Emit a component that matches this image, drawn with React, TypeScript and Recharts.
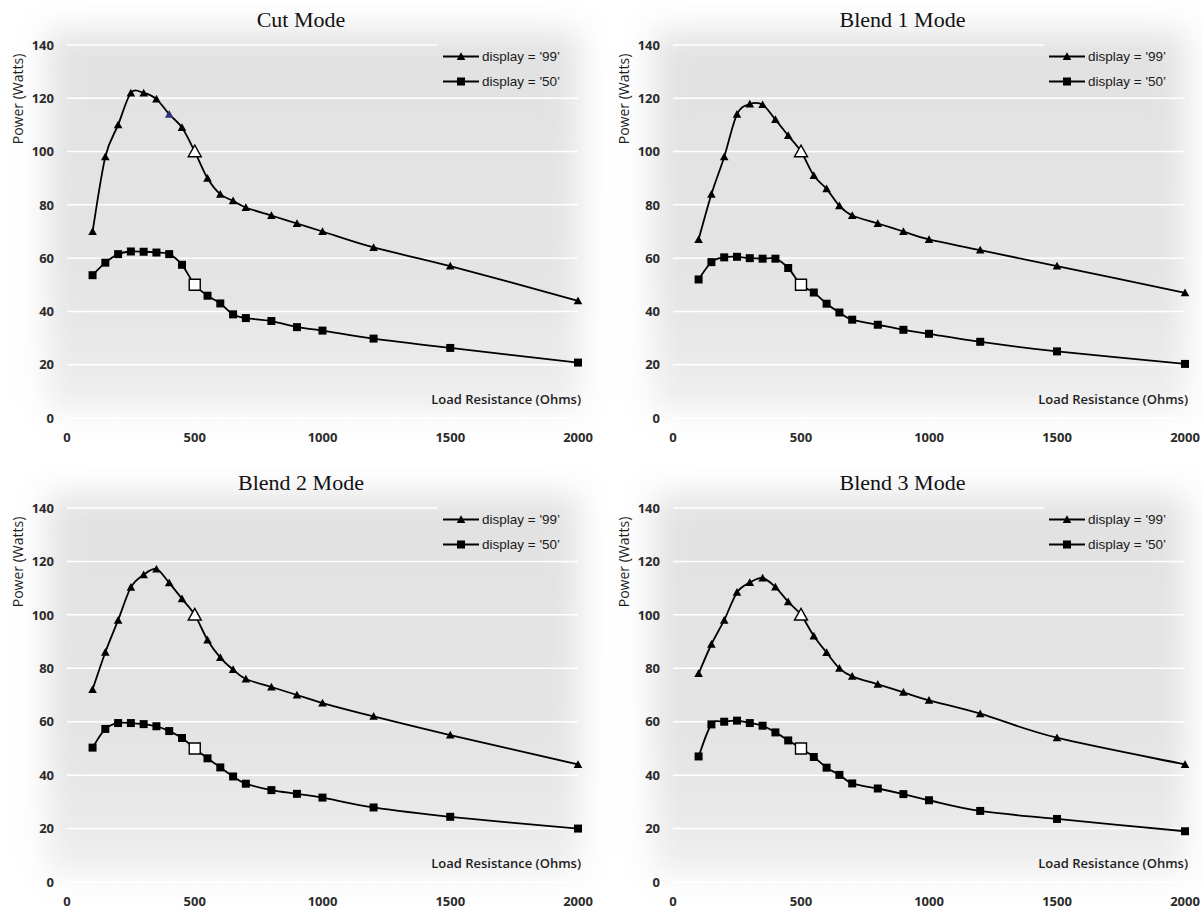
import React from 'react';
import { LineChart, Line, XAxis, YAxis, ReferenceLine } from 'recharts';

// load resistance (ohms) where the measurements were taken
const loads = [100, 150, 200, 250, 300, 350, 400, 450, 500, 550, 600, 650, 700, 800, 900, 1000, 1200, 1500, 2000];

// power (watts), display = '99'
const cut99 = [70, 98, 110, 122, 122, 119.7, 114, 109, 100, 90, 84, 81.5, 79, 76, 73, 70, 64, 57, 44];
const blend1_99 = [67, 84, 98, 114, 117.8, 117.6, 112, 106, 100, 91, 86, 79.6, 76, 73, 70, 67, 63, 57, 47];
const blend2_99 = [72, 86, 98, 110.3, 115, 117.1, 112, 106, 100, 90.6, 84, 79.5, 76, 73, 70, 67, 62, 55, 44];
const blend3_99 = [78, 89, 98, 108.4, 112.1, 113.8, 110.4, 104.9, 100, 92.1, 85.9, 80, 77, 74, 71, 68, 63, 54, 44];

// power (watts), display = '50'
const cut50 = [53.6, 58.3, 61.5, 62.5, 62.4, 62.1, 61.5, 57.5, 50, 45.9, 43, 38.9, 37.5, 36.4, 34.1, 32.8, 29.8, 26.3, 20.8];
const blend1_50 = [52, 58.5, 60.3, 60.5, 60, 59.8, 59.8, 56.3, 50, 47.1, 42.9, 39.6, 36.9, 35, 33.1, 31.6, 28.6, 25, 20.3];
const blend2_50 = [50.3, 57.3, 59.5, 59.5, 59.1, 58.3, 56.5, 53.9, 50, 46.3, 42.9, 39.5, 36.8, 34.4, 33, 31.6, 27.9, 24.4, 20];
const blend3_50 = [47, 59, 60, 60.4, 59.5, 58.5, 56, 53, 50, 46.8, 42.8, 40.1, 36.9, 35, 32.9, 30.6, 26.6, 23.6, 19];

const xTicks = [0, 100, 200, 300, 400, 500, 600, 700, 800, 900, 1000, 1100, 1200, 1300, 1400, 1500, 1600, 1700, 1800, 1900, 2000];
const xLabelTicks = [0, 500, 1000, 1500, 2000];
const yTicks = [0, 20, 40, 60, 80, 100, 120, 140];
const gridValues = [20, 40, 60, 80, 100, 120];
const openMarkerLoad = 500;

const legendNames = ["display = '99’", "display = '50’"];

const tickFont = { fontFamily: '"Open Sans", sans-serif', fontSize: 13, fontWeight: 700, fill: '#2b2b2b' };

// Excel-like smoothed line (Catmull-Rom through every point)
const smoothCurve: any = (context: any) => {
  let pts: number[][] = [];
  return {
    areaStart() {},
    areaEnd() {},
    lineStart() {
      pts = [];
    },
    point(x: number, y: number) {
      pts.push([+x, +y]);
    },
    lineEnd() {
      if (!pts.length) return;
      context.moveTo(pts[0][0], pts[0][1]);
      for (let i = 0; i < pts.length - 1; i++) {
        const p0 = pts[i - 1] || pts[i];
        const p1 = pts[i];
        const p2 = pts[i + 1];
        const p3 = pts[i + 2] || p2;
        context.bezierCurveTo(
          p1[0] + (p2[0] - p0[0]) / 6,
          p1[1] + (p2[1] - p0[1]) / 6,
          p2[0] - (p3[0] - p1[0]) / 6,
          p2[1] - (p3[1] - p1[1]) / 6,
          p2[0],
          p2[1]
        );
      }
    },
  };
};

function markerPath(shape: string, cx: number, cy: number, open: boolean) {
  if (shape === 'triangle') {
    const s = open ? 6.5 : 4.3;
    return `M${cx},${cy - s}L${cx + s},${cy + s * 0.8}L${cx - s},${cy + s * 0.8}Z`;
  }
  const s = open ? 5.5 : 4;
  return `M${cx - s},${cy - s}H${cx + s}V${cy + s}H${cx - s}Z`;
}

const makeDot = (shape: string, highlight?: number) => (props: any) => {
  const { cx, cy, payload, index } = props;
  if (cx == null || cy == null) return <g key={index} />;
  const open = payload.load === openMarkerLoad;
  const fill = open ? '#fff' : payload.load === highlight ? '#2e3380' : '#000';
  return (
    <path
      key={index}
      d={markerPath(shape, cx, cy, open)}
      fill={fill}
      stroke={open ? '#000' : 'none'}
      strokeWidth={1.4}
    />
  );
};

const XTick = (props: any) => {
  const { x, y, payload } = props;
  if (!xLabelTicks.includes(payload.value)) return <g />;
  return (
    <text x={x} y={y} dy="0.36em" textAnchor="middle" {...tickFont}>
      {payload.value}
    </text>
  );
};

const YTick = (props: any) => {
  const { x, y, payload } = props;
  return (
    <text x={x} y={y} dy="0.36em" textAnchor="end" {...tickFont}>
      {payload.value}
    </text>
  );
};

interface ModeChartProps {
  title: string;
  s99: number[];
  s50: number[];
  left: number;
  top: number;
  width: number;
  height: number;
  margin: { top: number; right: number; bottom: number; left: number };
  highlight?: number;
}

function ModeChart({ title, s99, s50, left, top, width, height, margin, highlight }: ModeChartProps) {
  const data = loads.map((load, i) => ({ load, p99: s99[i], p50: s50[i] }));
  const plotLeft = margin.left + 60;
  const plotTop = margin.top;
  const plotWidth = width - plotLeft - margin.right;
  const legendX = plotLeft + 376;

  return (
    <div style={{ position: 'absolute', left, top, width, height }}>
      <div
        style={{
          position: 'absolute',
          left: plotLeft - 20,
          top: plotTop - 14,
          width: plotWidth + 22,
          height: 380,
          background: 'linear-gradient(#e2e2e2 0%, #e4e4e4 65%, #eeeeee 100%)',
          filter: 'blur(16px)',
        }}
      />
      <div style={{ position: 'absolute', left: 0, top: 0 }}>
        <LineChart width={width} height={height} data={data} margin={margin}>
          <XAxis
            dataKey="load"
            type="number"
            domain={[0, 2000]}
            ticks={xTicks}
            interval={0}
            tick={<XTick />}
            tickSize={4}
            tickMargin={15}
            axisLine={{ stroke: '#ffffff', strokeWidth: 1.5 }}
            tickLine={{ stroke: '#ffffff', strokeWidth: 1.2 }}
            height={30}
            label={{
              content: (p: any) => {
                const vb = p.viewBox;
                return (
                  <text
                    x={vb.x + vb.width + 3}
                    y={vb.y - 14}
                    textAnchor="end"
                    fontFamily='"Open Sans", sans-serif'
                    fontSize={13}
                    fontWeight={600}
                    fill="#1e1e1e"
                  >
                    Load Resistance (Ohms)
                  </text>
                );
              },
            }}
          />
          <YAxis
            type="number"
            domain={[0, 140]}
            ticks={yTicks}
            interval={0}
            width={60}
            tick={<YTick />}
            tickSize={0}
            tickMargin={13}
            axisLine={false}
            tickLine={false}
            label={{
              content: (p: any) => {
                const vb = p.viewBox;
                const x = vb.x + vb.width - 49;
                const y = vb.y + 54;
                return (
                  <text
                    x={x}
                    y={y}
                    transform={`rotate(-90, ${x}, ${y})`}
                    textAnchor="middle"
                    dy="0.35em"
                    fontFamily='"Open Sans", sans-serif'
                    fontSize={14}
                    fill="#1e1e1e"
                  >
                    Power (Watts)
                  </text>
                );
              },
            }}
          />
          {gridValues.map((v) => (
            <ReferenceLine
              key={v}
              segment={[
                { x: 0, y: v },
                { x: 2000, y: v },
              ]}
              stroke="#ffffff"
              strokeWidth={1.5}
            />
          ))}
          <ReferenceLine
            segment={[
              { x: 0, y: 140 },
              { x: 1450, y: 140 },
            ]}
            stroke="#ffffff"
            strokeWidth={1.5}
          />
          <Line
            dataKey="p99"
            type={smoothCurve}
            stroke="#000"
            strokeWidth={1.8}
            dot={makeDot('triangle', highlight)}
            activeDot={false}
            isAnimationActive={false}
          />
          <Line
            dataKey="p50"
            type={smoothCurve}
            stroke="#000"
            strokeWidth={1.8}
            dot={makeDot('square')}
            activeDot={false}
            isAnimationActive={false}
          />
        </LineChart>
      </div>
      <svg
        width={width}
        height={height}
        style={{ position: 'absolute', left: 0, top: 0, pointerEvents: 'none' }}
      >
        <text
          x={width / 2 + 1}
          y={plotTop - 18.5}
          textAnchor="middle"
          fontFamily='"Liberation Serif", serif'
          fontSize={22}
          fill="#111"
        >
          {title}
        </text>
        {legendNames.map((name, i) => {
          const cy = plotTop + 11.5 + i * 25;
          return (
            <g key={name}>
              <line x1={legendX} y1={cy} x2={legendX + 36} y2={cy} stroke="#000" strokeWidth={1.8} />
              <path d={markerPath(i === 0 ? 'triangle' : 'square', legendX + 18, cy, false)} fill="#000" />
              <text
                x={legendX + 39}
                y={cy}
                dy="0.35em"
                fontFamily='"Liberation Sans", sans-serif'
                fontSize={13.5}
                fill="#1a1a1a"
              >
                {name}
              </text>
            </g>
          );
        })}
      </svg>
    </div>
  );
}

export default function App() {
  return (
    <div
      style={{
        position: 'absolute',
        left: 0,
        top: 0,
        width: 1203,
        height: 916,
        background: '#fff',
        overflow: 'hidden',
      }}
    >
      <ModeChart
        title="Cut Mode"
        s99={cut99}
        s50={cut50}
        left={0}
        top={0}
        width={600}
        height={458}
        margin={{ top: 45, right: 22, bottom: 10, left: 7 }}
        highlight={400}
      />
      <ModeChart
        title="Blend 1 Mode"
        s99={blend1_99}
        s50={blend1_50}
        left={600}
        top={0}
        width={603}
        height={458}
        margin={{ top: 45, right: 18, bottom: 10, left: 13 }}
      />
      <ModeChart
        title="Blend 2 Mode"
        s99={blend2_99}
        s50={blend2_50}
        left={0}
        top={460}
        width={600}
        height={456}
        margin={{ top: 48, right: 22, bottom: 4, left: 7 }}
      />
      <ModeChart
        title="Blend 3 Mode"
        s99={blend3_99}
        s50={blend3_50}
        left={600}
        top={460}
        width={603}
        height={456}
        margin={{ top: 48, right: 18, bottom: 4, left: 13 }}
      />
    </div>
  );
}
